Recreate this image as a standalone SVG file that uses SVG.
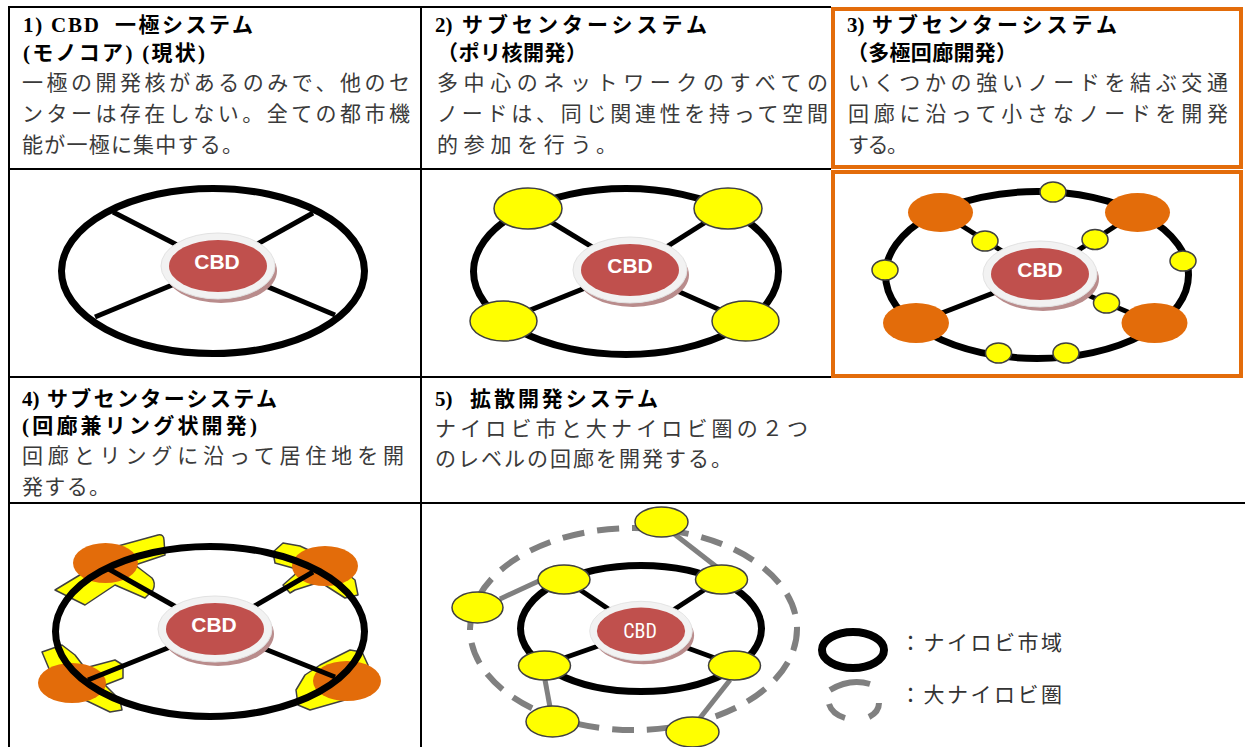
<svg xmlns="http://www.w3.org/2000/svg" xmlns:xlink="http://www.w3.org/1999/xlink" width="1245" height="747" viewBox="0 0 1245 747">
<style>
.grid{stroke:#000;stroke-width:2;fill:none}
.frame{stroke:#E36C0A;stroke-width:4;fill:none}
.hd{font-family:"Liberation Serif","Noto Sans CJK JP",serif;font-weight:bold;font-size:21px;fill:#000}
.bd{font-family:"Liberation Serif","Noto Sans CJK JP",serif;font-size:21px;fill:#3a3a3a}
.ring{fill:none;stroke:#000;stroke-width:7}
.spoke{stroke:#000;stroke-width:5;fill:none}
.gspoke{stroke:#808080;stroke-width:5;fill:none}
.dash{fill:none;stroke:#808080;stroke-width:6;stroke-dasharray:22 13}
.yel{fill:#FFFF00;stroke:#404040;stroke-width:1.5}
.org{fill:#E36C0A}
.cbdt{font-family:"Liberation Sans",Arial,sans-serif;font-weight:bold;font-size:21px;fill:#fff;text-anchor:middle}
.cbdn{font-family:"Liberation Sans Narrow","Roboto Condensed","Liberation Sans",sans-serif;font-size:20px;fill:#fff;text-anchor:middle}
.lg{font-family:"Liberation Serif","Noto Sans CJK JP",serif;font-size:21px;fill:#333}
</style>
<defs>
<g id="disk">
<ellipse cx="3" cy="5" rx="56" ry="32" fill="#b98c8c"/>
<ellipse cx="0" cy="0" rx="57" ry="33" fill="#f2f2f2" stroke="#e2e2e2" stroke-width="1"/>
<ellipse cx="0" cy="0" rx="49" ry="26" fill="#C0504D"/>
</g>
</defs>
<rect width="1245" height="747" fill="#fff"/>

<g id="table">
<line class="grid" x1="9" y1="7" x2="831" y2="7"/>
<line class="grid" x1="9" y1="169" x2="831" y2="169"/>
<line class="grid" x1="9" y1="377" x2="831" y2="377"/>
<line class="grid" x1="9" y1="503" x2="1245" y2="503"/>
<line class="grid" x1="9" y1="6" x2="9" y2="747"/>
<line class="grid" x1="421" y1="6" x2="421" y2="747"/>
<rect class="frame" x="833" y="9" width="408" height="158"/>
<rect class="frame" x="833" y="172" width="408" height="204"/>
</g>

<g id="cell1-text">
<text class="hd" x="23" y="32"><tspan textLength="76" lengthAdjust="spacing">1) CBD</tspan><tspan x="115" textLength="138" lengthAdjust="spacing">一極システム</tspan></text>
<text class="hd" x="23" y="60" textLength="182" lengthAdjust="spacing">(モノコア) (現状)</text>
<text class="bd" x="22" y="90" textLength="388" lengthAdjust="spacing">一極の開発核があるのみで、他のセ</text>
<text class="bd" x="22" y="121" textLength="388" lengthAdjust="spacing">ンターは存在しない。全ての都市機</text>
<text class="bd" x="22" y="152" textLength="221" lengthAdjust="spacing">能が一極に集中する。</text>
</g>
<g id="cell2-text">
<text class="hd" x="435" y="32">2) <tspan x="462" textLength="245" lengthAdjust="spacing">サブセンターシステム</tspan></text>
<text class="hd" x="437" y="60" textLength="150" lengthAdjust="spacing">（ポリ核開発）</text>
<text class="bd" x="437" y="90" textLength="391" lengthAdjust="spacing">多中心のネットワークのすべての</text>
<text class="bd" x="437" y="121" textLength="391" lengthAdjust="spacing">ノードは、同じ関連性を持って空間</text>
<text class="bd" x="437" y="152" textLength="180" lengthAdjust="spacing">的参加を行う。</text>
</g>
<g id="cell3-text">
<text class="hd" x="847" y="32">3) <tspan x="872" textLength="245" lengthAdjust="spacing">サブセンターシステム</tspan></text>
<text class="hd" x="847" y="60" textLength="170" lengthAdjust="spacing">（多極回廊開発）</text>
<text class="bd" x="848" y="90" textLength="380" lengthAdjust="spacing">いくつかの強いノードを結ぶ交通</text>
<text class="bd" x="848" y="121" textLength="380" lengthAdjust="spacing">回廊に沿って小さなノードを開発</text>
<text class="bd" x="848" y="152" textLength="60" lengthAdjust="spacing">する。</text>
</g>
<g id="cell4-text">
<text class="hd" x="22" y="406">4) <tspan x="47" textLength="230" lengthAdjust="spacing">サブセンターシステム</tspan></text>
<text class="hd" x="22" y="433" textLength="235" lengthAdjust="spacing">(回廊兼リング状開発)</text>
<text class="bd" x="22" y="463" textLength="382" lengthAdjust="spacing">回廊とリングに沿って居住地を開</text>
<text class="bd" x="22" y="494" textLength="88" lengthAdjust="spacing">発する。</text>
</g>
<g id="cell5-text">
<text class="hd" x="435" y="406">5) <tspan x="470" textLength="188" lengthAdjust="spacing">拡散開発システム</tspan></text>
<text class="bd" x="435" y="436" textLength="373" lengthAdjust="spacing">ナイロビ市と大ナイロビ圏の２つ</text>
<text class="bd" x="435" y="466" textLength="297" lengthAdjust="spacing">のレベルの回廊を開発する。</text>
</g>

<g id="d1">
<ellipse class="ring" cx="213" cy="271" rx="151.5" ry="82.5"/>
<g id="d1-connectors">
<line class="spoke" x1="113" y1="212" x2="218" y2="266"/>
<line class="spoke" x1="313" y1="213" x2="218" y2="266"/>
<line class="spoke" x1="95" y1="317" x2="218" y2="266"/>
<line class="spoke" x1="335" y1="315" x2="218" y2="266"/>
</g>
<g id="d1-cbd"><use xlink:href="#disk" x="218" y="266"/><text class="cbdt" x="217" y="269">CBD</text></g>
</g>

<g id="d2">
<ellipse class="ring" cx="626" cy="271.5" rx="152.5" ry="83"/>
<g id="d2-connectors">
<line class="spoke" x1="528" y1="208" x2="630" y2="270"/>
<line class="spoke" x1="728" y1="208" x2="630" y2="270"/>
<line class="spoke" x1="503" y1="321" x2="630" y2="270"/>
<line class="spoke" x1="745" y1="321" x2="630" y2="270"/>
</g>
<g id="d2-cbd"><use xlink:href="#disk" x="630" y="270"/><text class="cbdt" x="630" y="273">CBD</text></g>
<ellipse id="d2-n1" class="yel" cx="528" cy="208.5" rx="34" ry="20.5"/>
<ellipse id="d2-n2" class="yel" cx="728" cy="208.5" rx="34" ry="20.5"/>
<ellipse id="d2-n3" class="yel" cx="503.5" cy="321" rx="33.5" ry="20"/>
<ellipse id="d2-n4" class="yel" cx="745.5" cy="321" rx="33.5" ry="20"/>
</g>

<g id="d3">
<ellipse class="ring" cx="1037" cy="275" rx="151.5" ry="83.5"/>
<g id="d3-connectors">
<line class="spoke" x1="940" y1="212" x2="1040" y2="275"/>
<line class="spoke" x1="1137" y1="212" x2="1040" y2="275"/>
<line class="spoke" x1="916" y1="323" x2="1040" y2="275"/>
<line class="spoke" x1="1154" y1="323" x2="1040" y2="275"/>
</g>
<g id="d3-cbd"><use xlink:href="#disk" x="1040" y="274"/><text class="cbdt" x="1040" y="277">CBD</text></g>
<ellipse id="d3-o1" class="org" cx="940.5" cy="212.5" rx="32.5" ry="19.5"/>
<ellipse id="d3-o2" class="org" cx="1137.5" cy="212.5" rx="32.5" ry="19.5"/>
<ellipse id="d3-o3" class="org" cx="916" cy="323" rx="33" ry="20"/>
<ellipse id="d3-o4" class="org" cx="1154.5" cy="323" rx="33" ry="20"/>
<ellipse id="d3-y1" class="yel" cx="1053" cy="192" rx="13" ry="10"/>
<ellipse id="d3-y2" class="yel" cx="885" cy="270" rx="13" ry="10"/>
<ellipse id="d3-y3" class="yel" cx="1183" cy="261" rx="13" ry="10"/>
<ellipse id="d3-y4" class="yel" cx="985" cy="241" rx="13" ry="10"/>
<ellipse id="d3-y5" class="yel" cx="1095" cy="239.5" rx="13" ry="10"/>
<ellipse id="d3-y6" class="yel" cx="1106.5" cy="303" rx="13" ry="10"/>
<ellipse id="d3-y7" class="yel" cx="998.5" cy="353" rx="13" ry="10"/>
<ellipse id="d3-y8" class="yel" cx="1066" cy="353" rx="13" ry="10"/>
</g>

<g id="d4">
<path id="d4-b1" class="yel" stroke-linejoin="round" d="M118,546 L158,535 Q164,534 164,540 L165,555 L135,565 L152,578 Q156,583 153,590 L145,598 L115,585 L85,605 L55,590 L88,570 Z"/>
<path id="d4-b2" class="yel" stroke-linejoin="round" d="M283,543 L300,546 L330,560 L355,580 L358,595 L345,598 L320,582 L295,590 L290,593 L283,585 L300,570 L275,563 L273,552 Z"/>
<path id="d4-b3" class="yel" stroke-linejoin="round" d="M42,652 L62,645 L75,655 L85,668 L115,660 L123,665 L123,678 L105,685 L120,700 L122,710 L110,712 L85,700 L60,695 Z"/>
<path id="d4-b4" class="yel" stroke-linejoin="round" d="M320,665 L350,650 L362,652 L368,665 L365,680 L345,700 L310,710 L298,705 L296,690 L305,675 Z"/>
<ellipse id="d4-o1" class="org" cx="105.5" cy="563" rx="32.5" ry="20"/>
<ellipse id="d4-o2" class="org" cx="325" cy="566" rx="33" ry="20"/>
<ellipse id="d4-o3" class="org" cx="72" cy="683" rx="34" ry="20"/>
<ellipse id="d4-o4" class="org" cx="347" cy="681" rx="34" ry="20"/>
<ellipse class="ring" cx="210" cy="631.5" rx="154.5" ry="85"/>
<g id="d4-connectors">
<line class="spoke" x1="107" y1="568" x2="215" y2="629"/>
<line class="spoke" x1="313" y1="572" x2="215" y2="629"/>
<line class="spoke" x1="88" y1="680" x2="215" y2="629"/>
<line class="spoke" x1="335" y1="677" x2="215" y2="629"/>
</g>
<g id="d4-cbd"><use xlink:href="#disk" x="215" y="629"/><text class="cbdt" x="214" y="632">CBD</text></g>
</g>

<g id="d5">
<ellipse class="dash" cx="633.5" cy="629" rx="163.5" ry="101"/>
<ellipse class="ring" cx="641" cy="628.5" rx="120.5" ry="63"/>
<g id="d5-connectors">
<line class="spoke" x1="564" y1="579" x2="641" y2="631"/>
<line class="spoke" x1="721" y1="579" x2="641" y2="631"/>
<line class="spoke" x1="544" y1="665" x2="641" y2="631"/>
<line class="spoke" x1="734" y1="665" x2="641" y2="631"/>
<line class="gspoke" x1="673" y1="533" x2="718" y2="568"/>
<line class="gspoke" x1="500" y1="599" x2="541" y2="580"/>
<line class="gspoke" x1="545" y1="680" x2="550" y2="707"/>
<line class="gspoke" x1="730" y1="680" x2="700" y2="718"/>
</g>
<g id="d5-cbd"><use xlink:href="#disk" transform="translate(641,631) scale(0.9)"/><text class="cbdn" x="640" y="638">CBD</text></g>
<ellipse id="d5-n1" class="yel" cx="661.5" cy="522" rx="26.5" ry="15"/>
<ellipse id="d5-n2" class="yel" cx="477.5" cy="607.5" rx="25.5" ry="15.5"/>
<ellipse id="d5-n3" class="yel" cx="564" cy="579.5" rx="26" ry="14.5"/>
<ellipse id="d5-n4" class="yel" cx="721.5" cy="579.5" rx="26" ry="14.5"/>
<ellipse id="d5-n5" class="yel" cx="544.5" cy="665.5" rx="26" ry="14.5"/>
<ellipse id="d5-n6" class="yel" cx="734.5" cy="665.5" rx="26" ry="14.5"/>
<ellipse id="d5-n7" class="yel" cx="552.5" cy="721.5" rx="26.5" ry="15.5"/>
<ellipse id="d5-n8" class="yel" cx="692.5" cy="732" rx="26.5" ry="15"/>
</g>

<g id="legend">
<ellipse cx="853" cy="650" rx="31" ry="18" fill="none" stroke="#000" stroke-width="8"/>
<text class="lg" x="900" y="650" textLength="162" lengthAdjust="spacing">：ナイロビ市域</text>
<path d="M830,690 Q850,678 870,684" fill="none" stroke="#808080" stroke-width="6"/>
<path d="M829,704 Q832,714 845,718" fill="none" stroke="#808080" stroke-width="6"/>
<path d="M879,703 Q879,712 869,717" fill="none" stroke="#808080" stroke-width="6"/>
<text class="lg" x="900" y="702" textLength="162" lengthAdjust="spacing">：大ナイロビ圏</text>
</g>
</svg>
